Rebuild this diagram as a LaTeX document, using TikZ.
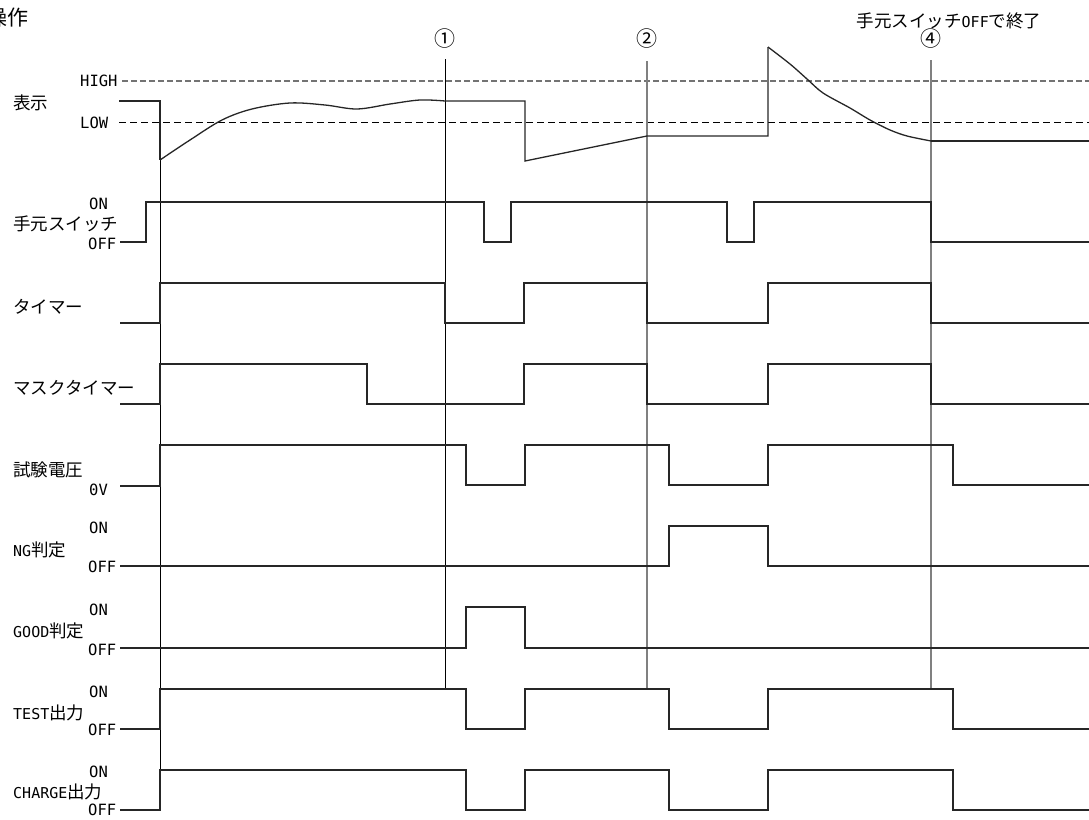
\documentclass[tikz,border=0pt]{standalone}
\usepackage{fontspec}
\newfontfamily\jpfont{Noto Sans CJK JP}
\newfontfamily\latfont{DejaVu Sans Mono}
\newcommand\lat[1]{{\latfont\fontsize{15}{16}\selectfont #1}}
\begin{document}
\begin{tikzpicture}[x=1pt,y=-1pt,
  sig/.style={line width=1.3pt, black!85, line join=miter},
  markerblack/.style={line width=1pt, black},
  markergray/.style={line width=1.3pt, black!50},
  highline/.style={line width=1.2pt, black!55, dash pattern=on 6pt off 3pt},
  lowline/.style={line width=1pt, black, dash pattern=on 7pt off 4pt},
  lbl/.style={anchor=west, inner sep=0pt, font=\jpfont\fontsize{17.5}{18}\selectfont},
  lvl/.style={anchor=west, inner sep=0pt, font=\latfont\fontsize{15.5}{16}\selectfont},
  circ/.style={inner sep=0pt, font=\jpfont\fontsize{21}{21}\selectfont}]
\useasboundingbox (0,0) rectangle (1089,819);

% title (partly cut at the left edge, as in the reference)
\node[anchor=east, inner sep=0pt, font=\jpfont\fontsize{21}{21}\selectfont] (title) at (29,18) {操作};
\node[inner sep=0pt, font=\jpfont\fontsize{17.5}{18}\selectfont] (endnote) at (949,21) {手元スイッチ\lat{OFF}で終了};

% circled markers
\node[circ] (c1) at (445,39) {①};
\node[circ] (c2) at (647,39) {②};
\node[circ] (c4) at (931,39) {④};

% row labels
\node[lbl] (l1) at (13,103) {表示};
\node[lvl] (high) at (80,81) {HIGH};
\node[lvl] (low) at (80,123) {LOW};

\node[lbl] (l2) at (13,224) {手元スイッチ};
\node[lvl] (l2on) at (89,204) {ON};
\node[lvl] (l2off) at (88,244) {OFF};

\node[lbl] (l3) at (13,307) {タイマー};
\node[lbl] (l4) at (13,388) {マスクタイマー};

\node[lbl] (l5) at (13,470) {試験電圧};
\node[lvl] (l5v) at (89,490) {0V};

\node[lbl] (l6) at (13,550) {\lat{NG}判定};
\node[lvl] (l6on) at (89,528) {ON};
\node[lvl] (l6off) at (88,567) {OFF};

\node[lbl] (l7) at (13,631) {\lat{GOOD}判定};
\node[lvl] (l7on) at (89,610) {ON};
\node[lvl] (l7off) at (88,650) {OFF};

\node[lbl] (l8) at (13,713) {\lat{TEST}出力};
\node[lvl] (l8on) at (89,692) {ON};
\node[lvl] (l8off) at (88,730) {OFF};

\node[lbl] (l9) at (13,792) {\lat{CHARGE}出力};
\node[lvl] (l9on) at (89,772) {ON};
\node[lvl] (l9off) at (88,810) {OFF};

% threshold lines
\draw[highline] (122,81) -- (1089,81);
\draw[lowline] (119,122) -- (1089,122);

% marker lines
\draw[markerblack] (160,101) -- (160,810);
\draw[markerblack] (445,59) -- (445,689);
\draw[markergray] (647,61) -- (647,689);
\draw[markergray] (931,60) -- (931,689);

% display signal
\draw[sig] (119,101) -- (160,101) -- (160,160);
\draw[sig] plot[smooth, tension=0.55] coordinates {(160,160) (190,140) (222,120) (252,109) (290,103) (325,105) (357,109) (390,104) (420,100) (445,101)};
\draw[sig] (445,101) -- (525,101) -- (525,161) -- (647,136) -- (768,136) -- (768,47);
\draw[sig] plot[smooth, tension=0.5] coordinates {(768,47) (790,64) (807,79) (823,93) (850,108) (870,120) (890,130) (907,136) (931,141)};
\draw[sig] (931,141) -- (1089,141);

% hand switch
\draw[sig] (120,242) -- (146,242) -- (146,202) -- (484,202) -- (484,242) -- (511,242) -- (511,202)
  -- (727,202) -- (727,242) -- (754,242) -- (754,202) -- (931,202) -- (931,242) -- (1089,242);

% timer
\draw[sig] (120,323) -- (160,323) -- (160,283) -- (445,283) -- (445,323) -- (524,323) -- (524,283)
  -- (647,283) -- (647,323) -- (768,323) -- (768,283) -- (931,283) -- (931,323) -- (1089,323);

% mask timer
\draw[sig] (120,404) -- (160,404) -- (160,364) -- (367,364) -- (367,404) -- (524,404) -- (524,364)
  -- (647,364) -- (647,404) -- (768,404) -- (768,364) -- (931,364) -- (931,404) -- (1089,404);

% test voltage
\draw[sig] (120,486) -- (160,486) -- (160,445) -- (466,445) -- (466,485) -- (525,485) -- (525,445)
  -- (669,445) -- (669,485) -- (768,485) -- (768,445) -- (953,445) -- (953,485) -- (1089,485);

% NG
\draw[sig] (120,566) -- (669,566) -- (669,526) -- (768,526) -- (768,566) -- (1089,566);

% GOOD
\draw[sig] (120,648) -- (466,648) -- (466,607) -- (525,607) -- (525,648) -- (1089,648);

% TEST output
\draw[sig] (120,729) -- (160,729) -- (160,689) -- (466,689) -- (466,729) -- (525,729) -- (525,689)
  -- (669,689) -- (669,729) -- (768,729) -- (768,689) -- (953,689) -- (953,729) -- (1089,729);

% CHARGE output
\draw[sig] (120,810) -- (160,810) -- (160,770) -- (466,770) -- (466,810) -- (525,810) -- (525,770)
  -- (669,770) -- (669,810) -- (768,810) -- (768,770) -- (953,770) -- (953,810) -- (1089,810);
\end{tikzpicture}
\end{document}
